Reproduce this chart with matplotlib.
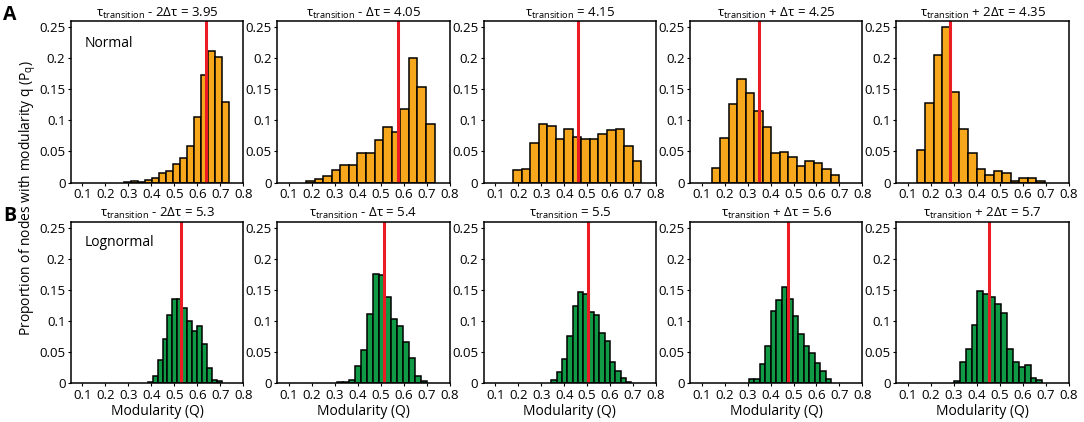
import matplotlib
matplotlib.use("Agg")
import matplotlib.pyplot as plt
import numpy as np

plt.rcParams["font.family"] = ["Open Sans", "DejaVu Sans"]
plt.rcParams["mathtext.fontset"] = "custom"
plt.rcParams["mathtext.rm"] = "Open Sans"
plt.rcParams["mathtext.it"] = "Open Sans"

# ---------------- DATA ----------------
titles_a = [r"$\tau_{\mathrm{transition}}$ - 2Δτ = 3.95",
            r"$\tau_{\mathrm{transition}}$ - Δτ = 4.05",
            r"$\tau_{\mathrm{transition}}$ = 4.15",
            r"$\tau_{\mathrm{transition}}$ + Δτ = 4.25",
            r"$\tau_{\mathrm{transition}}$ + 2Δτ = 4.35"]
titles_b = [r"$\tau_{\mathrm{transition}}$ - 2Δτ = 5.3",
            r"$\tau_{\mathrm{transition}}$ - Δτ = 5.4",
            r"$\tau_{\mathrm{transition}}$ = 5.5",
            r"$\tau_{\mathrm{transition}}$ + Δτ = 5.6",
            r"$\tau_{\mathrm{transition}}$ + 2Δτ = 5.7"]

# histogram range (min, max of modularity) per panel, 15 bins each
range_a = [(0.281, 0.736), (0.175, 0.734), (0.178, 0.735), (0.145, 0.700), (0.139, 0.695)]
range_b = [(0.384, 0.705), (0.309, 0.702), (0.344, 0.692), (0.306, 0.664), (0.300, 0.685)]

normal_1 = [0.001, 0.002, 0.001, 0.004, 0.007, 0.016, 0.018, 0.030, 0.039, 0.059, 0.105, 0.173, 0.212, 0.202, 0.130]
normal_2 = [0.002, 0.006, 0.010, 0.020, 0.028, 0.029, 0.047, 0.048, 0.068, 0.090, 0.082, 0.119, 0.200, 0.154, 0.094]
normal_3 = [0.020, 0.021, 0.064, 0.094, 0.091, 0.070, 0.086, 0.073, 0.070, 0.070, 0.078, 0.084, 0.086, 0.059, 0.034]
normal_4 = [0.023, 0.072, 0.127, 0.167, 0.144, 0.115, 0.089, 0.048, 0.049, 0.041, 0.027, 0.034, 0.031, 0.021, 0.012]
normal_5 = [0.053, 0.128, 0.205, 0.251, 0.145, 0.086, 0.047, 0.021, 0.012, 0.018, 0.015, 0.003, 0.008, 0.008, 0.002]

lognormal_1 = [0.002, 0.012, 0.037, 0.071, 0.110, 0.135, 0.135, 0.120, 0.100, 0.083, 0.092, 0.062, 0.024, 0.005, 0.003]
lognormal_2 = [0.001, 0.002, 0.005, 0.027, 0.053, 0.111, 0.176, 0.174, 0.138, 0.103, 0.091, 0.066, 0.040, 0.012, 0.003]
lognormal_3 = [0.005, 0.017, 0.039, 0.075, 0.124, 0.147, 0.143, 0.115, 0.110, 0.080, 0.068, 0.033, 0.020, 0.008, 0.002]
lognormal_4 = [0.006, 0.007, 0.030, 0.059, 0.116, 0.134, 0.155, 0.135, 0.108, 0.079, 0.060, 0.049, 0.032, 0.020, 0.007]
lognormal_5 = [0.003, 0.033, 0.055, 0.093, 0.148, 0.144, 0.138, 0.127, 0.113, 0.054, 0.033, 0.025, 0.029, 0.008, 0.004]

normal = [normal_1, normal_2, normal_3, normal_4, normal_5]
lognormal = [lognormal_1, lognormal_2, lognormal_3, lognormal_4, lognormal_5]

# mean modularity (red lines)
mean_a = [0.637, 0.573, 0.462, 0.350, 0.284]
mean_b = [0.530, 0.516, 0.502, 0.477, 0.453]

ORANGE = "#F7A71C"
GREEN = "#109A45"
RED = "#EC1C24"

fig, axes = plt.subplots(2, 5, figsize=(10.84, 4.22), dpi=100)
fig.subplots_adjust(left=0.0655, right=0.986, top=0.950, bottom=0.0925,
                    wspace=0.197, hspace=0.242)


def draw_panel(ax, heights, rng, mean, color, title):
    edges = np.linspace(rng[0], rng[1], len(heights) + 1)
    ax.bar(edges[:-1], heights, width=np.diff(edges), align="edge",
           color=color, edgecolor="black", linewidth=1.1)
    ax.axvline(mean, color=RED, linewidth=2.2)
    ax.set_xlim(0.05, 0.8)
    ax.set_ylim(0, 0.26)
    ax.set_xticks([0.1, 0.2, 0.3, 0.4, 0.5, 0.6, 0.7, 0.8])
    ax.set_xticklabels(["0.1", "0.2", "0.3", "0.4", "0.5", "0.6", "0.7", "0.8"])
    ax.set_yticks([0, 0.05, 0.1, 0.15, 0.2, 0.25])
    ax.set_yticklabels(["0", "0.05", "0.1", "0.15", "0.2", "0.25"])
    ax.tick_params(labelsize=9.5, length=2.5, width=0.8, pad=1.5)
    for s in ax.spines.values():
        s.set_linewidth(1.1)
    ax.set_title(title, fontsize=9.5, pad=3)


for i in range(5):
    draw_panel(axes[0, i], normal[i], range_a[i], mean_a[i], ORANGE, titles_a[i])
    draw_panel(axes[1, i], lognormal[i], range_b[i], mean_b[i], GREEN, titles_b[i])
    axes[1, i].set_xlabel("Modularity (Q)", fontsize=10, labelpad=2)

axes[0, 0].text(0.08, 0.86, "Normal", transform=axes[0, 0].transAxes,
                fontsize=10, va="center")
axes[1, 0].text(0.08, 0.87, "Lognormal", transform=axes[1, 0].transAxes,
                fontsize=10, va="center")

fig.text(0.003, 0.965, "A", fontsize=14, fontweight="bold", va="center")
fig.text(0.003, 0.488, "B", fontsize=14, fontweight="bold", va="center")
fig.text(0.026, 0.53, r"Proportion of nodes with modularity q (P$_{\mathrm{q}}$)",
         rotation=90, fontsize=10, ha="center", va="center")

plt.savefig("out.png", dpi=100)
plt.close()
